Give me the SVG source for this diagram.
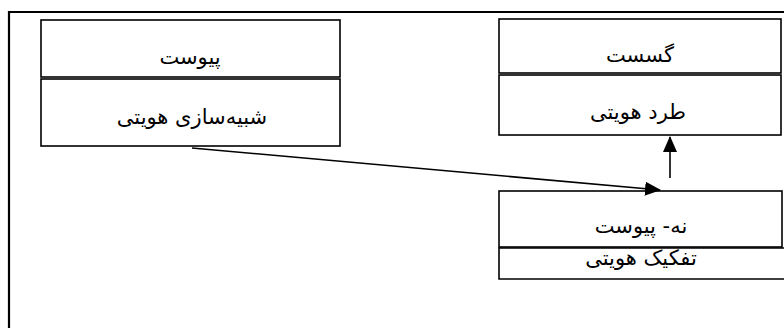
<svg xmlns="http://www.w3.org/2000/svg" width="784" height="328" viewBox="0 0 784 328">
  <style>
    .box { fill: #ffffff; stroke: #000000; stroke-width: 1.6; }
    .frame { fill: none; stroke: #000000; stroke-width: 2.2; }
    .edge { fill: none; stroke: #000000; stroke-width: 1.6; }
    .label { font-family: "DejaVu Sans", "Noto Sans", sans-serif; font-size: 21px; fill: #000000; text-anchor: middle; direction: rtl; }
  </style>
  <defs>
    <marker id="arrow" markerWidth="16" markerHeight="14" refX="15" refY="7" orient="auto" markerUnits="userSpaceOnUse">
      <path d="M0,0 L16,7 L0,14 Z" fill="#000000"/>
    </marker>
  </defs>

  <rect width="784" height="328" fill="#ffffff"/>

  <!-- outer frame, open at the bottom -->
  <path class="frame" d="M9,330 L9,12 L784,12"/>

  <g id="node-peyvast">
    <rect class="box" x="41" y="20" width="299" height="57"/>
    <text class="label" x="190" y="64">پیوست</text>
  </g>
  <g id="node-shabihsazi">
    <rect class="box" x="41" y="79" width="299" height="67"/>
    <text class="label" x="192" y="124">شبیه&#x200C;سازی هویتی</text>
  </g>

  <g id="node-gosast">
    <rect class="box" x="499" y="19" width="282" height="54"/>
    <text class="label" x="640" y="62">گسست</text>
  </g>
  <g id="node-tard">
    <rect class="box" x="499" y="75" width="282" height="60"/>
    <text class="label" x="638" y="119">طرد هویتی</text>
  </g>

  <g id="node-tafkik">
    <path class="box" d="M786,248 L499,248 L499,279 L786,279"/>
    <text class="label" x="641" y="265">تفکیک هویتی</text>
  </g>
  <g id="node-nah-peyvast">
    <rect class="box" x="499" y="191" width="283" height="56" style="fill:none"/>
    <text class="label" x="641" y="233">نه- پیوست</text>
  </g>

  <g id="connectors">
    <line class="edge" x1="192" y1="148" x2="660" y2="190" marker-end="url(#arrow)"/>
    <line class="edge" x1="670" y1="178" x2="670" y2="137" marker-end="url(#arrow)"/>
  </g>
</svg>
